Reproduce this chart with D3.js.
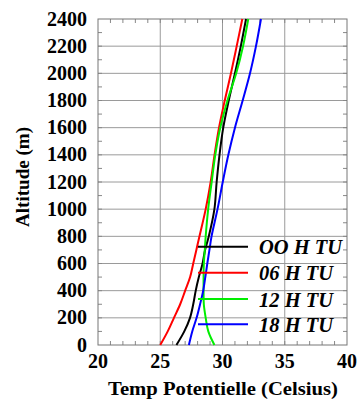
<!DOCTYPE html>
<html>
<head>
<meta charset="utf-8">
<script src="https://cdn.jsdelivr.net/npm/d3@7"></script>
<style>
  body { margin: 0; background: #fff; }
  text { font-family: "Liberation Serif", "DejaVu Serif", serif; font-weight: bold; }
</style>
</head>
<body>
<svg id="chart" width="359" height="401"></svg>
<script>
// altitude (m) and potential temperature (Celsius) per hour
var altitudes = [0, 100, 200, 300, 400, 500, 600, 700, 800, 1000, 1200, 1400, 1600, 1800, 2000, 2200, 2400];
var temp00 = [26.3, 26.93, 27.39, 27.65, 27.85, 28.1, 28.4, 28.6, 28.9, 29.35, 29.53, 29.76, 30.06, 30.5, 31.0, 31.47, 31.89];
var temp06 = [25.0, 25.6, 26.1, 26.6, 27.0, 27.4, 27.65, 27.9, 28.15, 28.65, 29.05, 29.36, 29.72, 30.18, 30.68, 31.14, 31.59];
var temp12 = [29.35, 28.86, 28.65, 28.5, 28.48, 28.48, 28.5, 28.58, 28.65, 28.85, 29.13, 29.42, 29.82, 30.4, 31.1, 31.65, 32.07];
var temp18 = [27.3, 27.57, 27.92, 28.2, 28.45, 28.62, 28.78, 28.95, 29.12, 29.6, 30.02, 30.47, 31.0, 31.62, 32.21, 32.69, 33.09];
var seriesNames = ["OO H TU", "06 H TU", "12 H TU", "18 H TU"];
var seriesColors = ["#000000", "#ff0000", "#00ee00", "#0000ff"];
var xTicks = [20, 25, 30, 35, 40];
var yTicks = [0, 200, 400, 600, 800, 1000, 1200, 1400, 1600, 1800, 2000, 2200, 2400];

var svg = d3.select("#chart");
var pLeft = 98, pRight = 347, pTop = 19, pBottom = 345;

var x = d3.scaleLinear().domain([20, 40]).range([pLeft, pRight]);
var y = d3.scaleLinear().domain([0, 2400]).range([pBottom, pTop]);

var grid = svg.append("g");
// grid lines
grid.selectAll(".gx").data(xTicks.slice(1, -1)).enter().append("line")
    .attr("x1", d => x(d)).attr("x2", d => x(d))
    .attr("y1", pTop).attr("y2", pBottom)
    .attr("stroke", "#9a9a9a").attr("stroke-width", 1);
grid.selectAll(".gy").data(yTicks.slice(1, -1)).enter().append("line")
    .attr("x1", pLeft).attr("x2", pRight)
    .attr("y1", d => y(d)).attr("y2", d => y(d))
    .attr("stroke", "#9a9a9a").attr("stroke-width", 1);

// minor ticks inside on all four sides
var minorX = d3.range(21, 40, 1);
var minorY = d3.range(100, 2400, 100);
grid.selectAll(".tb").data(minorX).enter().append("line")
    .attr("x1", d => x(d)).attr("x2", d => x(d))
    .attr("y1", pBottom).attr("y2", pBottom - 4)
    .attr("stroke", "#888");
grid.selectAll(".tt").data(minorX).enter().append("line")
    .attr("x1", d => x(d)).attr("x2", d => x(d))
    .attr("y1", pTop).attr("y2", pTop + 4)
    .attr("stroke", "#888");
grid.selectAll(".tl").data(minorY).enter().append("line")
    .attr("x1", pLeft).attr("x2", pLeft + 4)
    .attr("y1", d => y(d)).attr("y2", d => y(d))
    .attr("stroke", "#888");
grid.selectAll(".tr").data(minorY).enter().append("line")
    .attr("x1", pRight).attr("x2", pRight - 4)
    .attr("y1", d => y(d)).attr("y2", d => y(d))
    .attr("stroke", "#888");

svg.append("rect")
    .attr("x", pLeft).attr("y", pTop)
    .attr("width", pRight - pLeft).attr("height", pBottom - pTop)
    .attr("fill", "none").attr("stroke", "#777").attr("stroke-width", 1);

// tick labels
svg.selectAll(".xl").data(xTicks).enter().append("text")
    .attr("x", d => x(d)).attr("y", 368)
    .attr("text-anchor", "middle")
    .style("font-size", "20px")
    .text(d => d);
svg.selectAll(".yl").data(yTicks).enter().append("text")
    .attr("x", 87).attr("y", d => y(d) + 6.5)
    .attr("text-anchor", "end")
    .style("font-size", "20px")
    .text(d => d);

svg.append("text")
    .attr("x", 223).attr("y", 395)
    .attr("text-anchor", "middle")
    .attr("textLength", 230).attr("lengthAdjust", "spacingAndGlyphs")
    .style("font-size", "19px")
    .text("Temp Potentielle (Celsius)");
svg.append("text")
    .attr("transform", "translate(29,177) rotate(-90)")
    .attr("text-anchor", "middle")
    .attr("textLength", 100).attr("lengthAdjust", "spacingAndGlyphs")
    .style("font-size", "19px")
    .text("Altitude (m)");

// curves
var allTemps = [temp00, temp06, temp12, temp18];
var line = d3.line()
    .x(d => x(d[0]))
    .y(d => y(d[1]))
    .curve(d3.curveCatmullRom);

allTemps.forEach(function(t, i) {
  var pts = altitudes.map((a, k) => [t[k], a]);
  svg.append("path")
    .attr("d", line(pts))
    .attr("fill", "none")
    .attr("stroke", seriesColors[i])
    .attr("stroke-width", 2);
});

// legend
var legY = [246.7, 272.7, 299, 324.3];
seriesNames.forEach(function(n, i) {
  svg.append("line")
    .attr("x1", 198).attr("x2", 248)
    .attr("y1", legY[i]).attr("y2", legY[i])
    .attr("stroke", seriesColors[i]).attr("stroke-width", 2);
  svg.append("text")
    .attr("x", 259).attr("y", legY[i] + 7.5)
    .style("font-size", "20.5px")
    .style("font-style", "italic")
    .text(n);
});
</script>
</body>
</html>
